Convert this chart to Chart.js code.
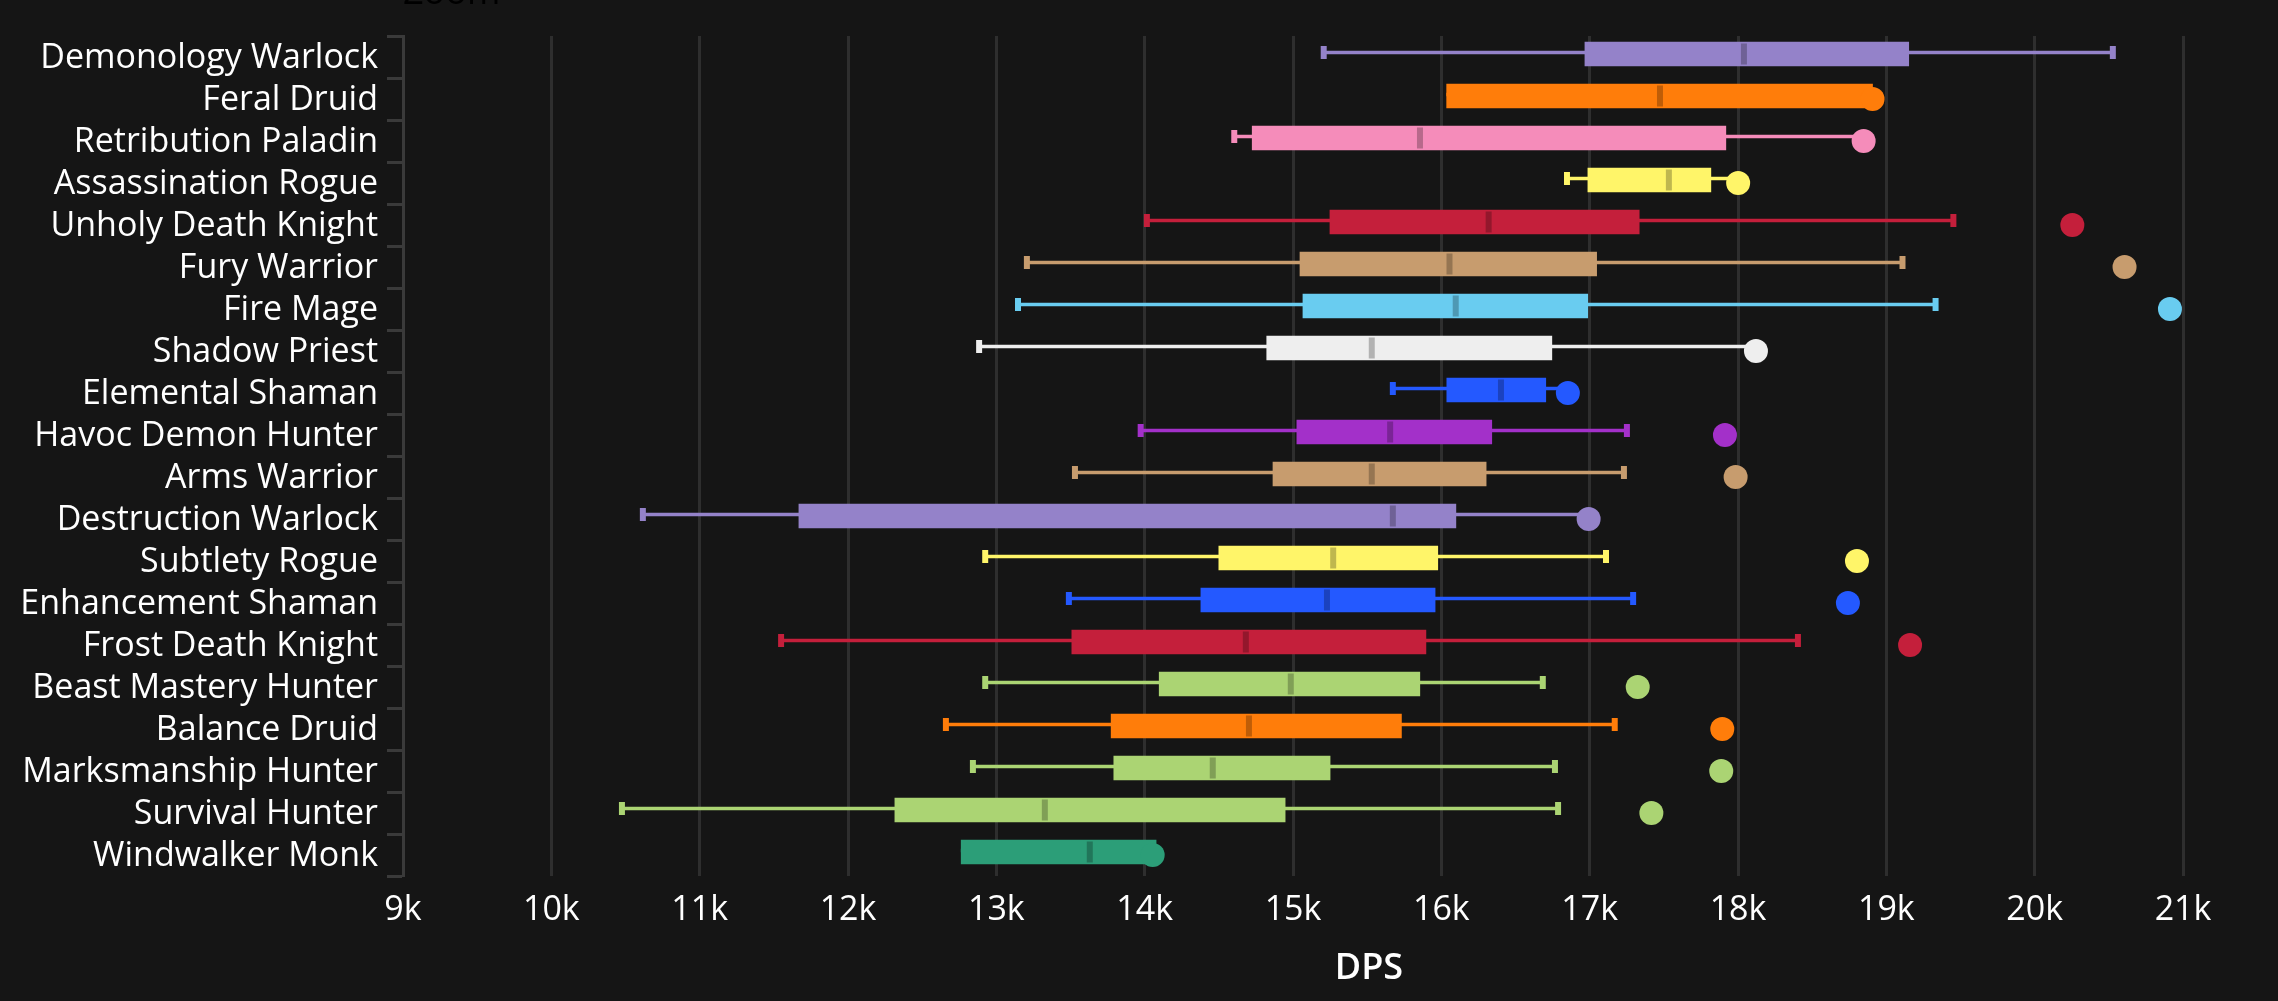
<!DOCTYPE html>
<html>
<head>
<meta charset="utf-8">
<title>DPS</title>
<script src="https://cdn.jsdelivr.net/npm/chart.js@4"></script>
<style>
  html, body { margin: 0; background: #151515; overflow: hidden; }
  #wrap { position: relative; width: 2278px; height: 1001px; overflow: hidden; }
  #zoomLabel { position: absolute; left: 403px; top: -34px; font: 36px "Open Sans", sans-serif; color: #000; }
  #xTitle { position: absolute; left: 1269px; width: 200px; top: 941px; text-align: center; font: 600 36px "Open Sans", sans-serif; color: #fff; }
</style>
</head>
<body>
<div id="wrap">
  <canvas id="chart" width="2278" height="1001"></canvas>
  <div id="zoomLabel">Zoom</div>
  <div id="xTitle">DPS</div>
</div>
<script>
'use strict';

const specs = ['Demonology Warlock', 'Feral Druid', 'Retribution Paladin', 'Assassination Rogue', 'Unholy Death Knight',
  'Fury Warrior', 'Fire Mage', 'Shadow Priest', 'Elemental Shaman', 'Havoc Demon Hunter', 'Arms Warrior',
  'Destruction Warlock', 'Subtlety Rogue', 'Enhancement Shaman', 'Frost Death Knight', 'Beast Mastery Hunter',
  'Balance Druid', 'Marksmanship Hunter', 'Survival Hunter', 'Windwalker Monk'];

// null: no lower whisker visible, the box starts at the minimum
const minDps = [15207, null, 14604, 16847, 14015, 13206, 13146, 12884, 15673, 13973, 13530, 10617, 12925, 13489, 11549, 12925, 12660, 12842, 10476, null];
const q1Dps = [16968, 16036, 14725, 16988, 15249, 15047, 15067, 14823, 16037, 15026, 14865, 11669, 14500, 14379, 13509, 14098, 13774, 13792, 12316, 12763];
const medianDps = [18040, 17474, 15856, 17534, 16319, 16055, 16097, 15531, 16402, 15655, 15531, 15673, 15271, 15229, 14682, 14985, 14703, 14459, 13327, 13630];
const q3Dps = [19151, 18907, 17918, 17817, 17334, 17047, 16987, 16745, 16704, 16340, 16302, 16098, 15976, 15958, 15896, 15855, 15731, 15250, 14947, 14077];
const maxDps = [20527, 18907, 18847, 18001, 19452, 19109, 19332, 18121, 16853, 17251, 17231, 16993, 17110, 17293, 18404, 16684, 17169, 16766, 16787, 14054];
const topDps = [21186, 18907, 18847, 18001, 20254, 20606, 20912, 18121, 16853, 17912, 17984, 16993, 18802, 18741, 19160, 17324, 17894, 17887, 17416, 14054];

const colors = ['#9482c9', '#ff7d0a', '#f58cba', '#fff569', '#c41f3b', '#c79c6e', '#69ccf0', '#eeeeee', '#2459ff', '#a330c9',
  '#c79c6e', '#9482c9', '#fff569', '#2459ff', '#c41f3b', '#abd473', '#ff7d0a', '#abd473', '#abd473', '#2c9e78'];

const axisColor = '#3a3a3a';
const gridColor = '#2e2e2e';
const fontFamily = '"Open Sans", sans-serif';

// the original draws box and whisker a few px above the centre of each row
const shiftPlugin = {
  id: 'shift',
  beforeDatasetDraw(chart, args) {
    const ctx = chart.ctx;
    ctx.save();
    ctx.translate(0, args.meta.controller.getDataset().shiftY || 0);
  },
  afterDatasetDraw(chart) { chart.ctx.restore(); }
};

const tickMark = (values, radius, color, shiftY) => ({
  type: 'scatter', data: values.map((v, i) => ({ x: v, y: specs[i] })), shiftY,
  pointStyle: 'line', pointRotation: 90, pointRadius: radius, pointHoverRadius: radius,
  pointBorderWidth: 6, pointHoverBorderWidth: 6, borderColor: color, pointBorderColor: color
});

// chart.js paints the first dataset last, so the top layer comes first here
new Chart(document.getElementById('chart'), {
  data: {
    labels: specs,
    datasets: [
      { type: 'scatter', clip: false, data: topDps.map((v, i) => ({ x: v, y: specs[i] })), pointRadius: 12, pointHoverRadius: 12,
        pointBorderWidth: 0, pointBackgroundColor: colors },
      tickMark(medianDps, 10.5, 'rgba(0,0,0,.25)', -3),
      { type: 'bar', indexAxis: 'y', grouped: false, barThickness: 24, shiftY: -3, backgroundColor: colors,
        data: q1Dps.map((v, i) => [v, q3Dps[i]]) },
      tickMark(minDps, 6.5, colors, -4.5),
      tickMark(maxDps, 6.5, colors, -4.5),
      { type: 'bar', indexAxis: 'y', grouped: false, barThickness: 3, shiftY: -4.5, backgroundColor: colors,
        data: q1Dps.map((v, i) => [minDps[i] === null ? v : minDps[i], maxDps[i]]) }
    ]
  },
  options: {
    responsive: false, animation: false, devicePixelRatio: 1,
    layout: { padding: { top: 36, right: 95, bottom: 0, left: 0 } },
    plugins: { legend: { display: false }, tooltip: { enabled: false } },
    scales: {
      x: {
        type: 'linear', position: 'bottom', min: 9000, max: 21000,
        afterFit: s => { s.height = 125; },
        grid: { color: gridColor, lineWidth: 3, drawTicks: false },
        border: { display: false },
        ticks: { stepSize: 1000, autoSkip: false, maxRotation: 0, color: '#fff', padding: 13.5,
          font: { family: fontFamily, size: 34 }, callback: v => (v / 1000) + 'k' }
      },
      y: {
        type: 'category', position: 'left', offset: true,
        afterFit: s => { s.width = 403; },
        grid: { offset: true, drawOnChartArea: false, drawTicks: true, tickLength: 16, tickColor: axisColor, tickWidth: 3 },
        border: { display: true, color: axisColor, width: 3 },
        ticks: { autoSkip: false, color: '#fff', padding: 9, labelOffset: 1.5, font: { family: fontFamily, size: 34 } }
      }
    }
  },
  plugins: [shiftPlugin]
});
</script>
</body>
</html>
